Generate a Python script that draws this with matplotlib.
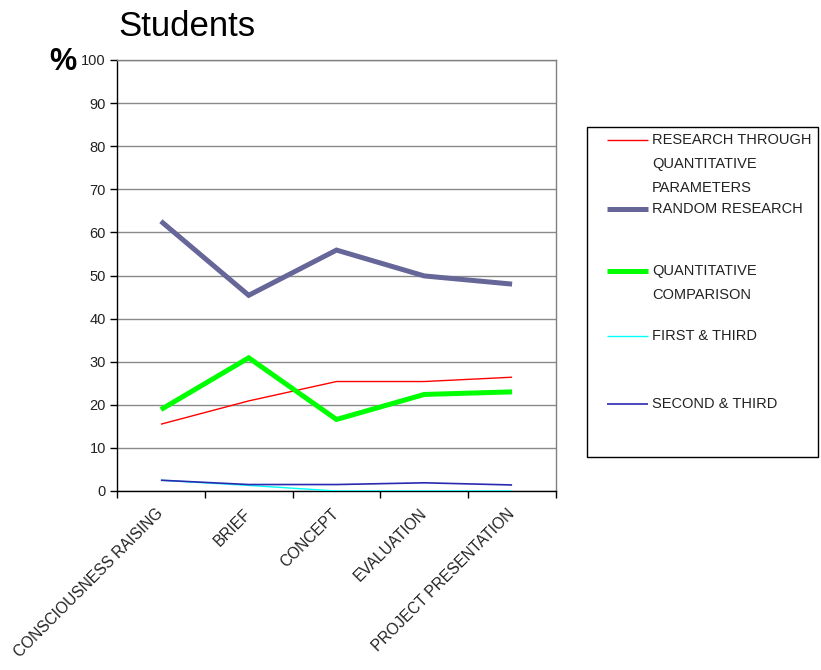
import matplotlib
matplotlib.use("Agg")
import matplotlib.pyplot as plt
from matplotlib.patches import Rectangle
from matplotlib.transforms import ScaledTranslation
import numpy as np

plt.rcParams['font.family'] = ['Liberation Sans', 'DejaVu Sans']

# ---- data ----
stages = ["CONSCIOUSNESS RAISING", "BRIEF", "CONCEPT", "EVALUATION",
          "PROJECT PRESENTATION"]
research_quant_params = [15.5, 20.9, 25.4, 25.4, 26.4]
random_research = [62.6, 45.4, 55.9, 49.9, 48.0]
quant_comparison = [18.9, 30.9, 16.6, 22.4, 23.0]
first_third = [2.5, 1.3, 0.0, 0.0, 0.0]
second_third = [2.5, 1.5, 1.5, 1.9, 1.4]
yticks = list(range(0, 101, 10))

series_names = ["RESEARCH THROUGH\nQUANTITATIVE\nPARAMETERS",
                "RANDOM RESEARCH",
                "QUANTITATIVE\nCOMPARISON",
                "FIRST & THIRD",
                "SECOND & THIRD"]
series_values = [research_quant_params, random_research, quant_comparison,
                 first_third, second_third]
series_colors = ["#FF0000", "#666699", "#00FF00", "#00FFFF", "#2A2AB0"]
series_widths = [1.0, 3.6, 3.6, 1.0, 1.2]

W, H = 821, 670
fig = plt.figure(figsize=(W / 100, H / 100), dpi=100)
fig.patch.set_facecolor("white")

# plot area in pixel terms
L, R, T, B = 117, 556, 60, 491
ax = fig.add_axes([L / W, 1 - B / H, (R - L) / W, (B - T) / H])

x = np.arange(len(stages))
for vals, c, lw in zip(series_values, series_colors, series_widths):
    ax.plot(x, vals, color=c, lw=lw, solid_capstyle="butt",
            solid_joinstyle="miter", zorder=3)

ax.set_xlim(-0.5, len(stages) - 0.5)
ax.set_ylim(0, 100)
ax.set_yticks(yticks)
ax.set_yticklabels([str(v) for v in yticks], fontsize=10.5, color="#222222")
ax.yaxis.grid(True, color="#8a8a8a", lw=1.0, zorder=1)
ax.set_axisbelow(True)

# category boundaries as ticks, names centred between them
ax.set_xticks(np.arange(-0.5, len(stages), 1.0))
ax.set_xticklabels([])
ax.set_xticks(x, minor=True)
ax.set_xticklabels(stages, minor=True, rotation=45, ha="right", va="top",
                   rotation_mode="anchor", fontsize=11.2, color="#222222")
ax.tick_params(axis="x", which="minor", length=0, pad=8)
shift = ScaledTranslation(-0.05, -0.04, fig.dpi_scale_trans)
for lbl in ax.get_xticklabels(minor=True):
    lbl.set_transform(lbl.get_transform() + shift)
ax.tick_params(axis="x", which="major", length=5, width=1, color="black",
               direction="out")
ax.tick_params(axis="y", length=5, width=1, color="black", pad=3,
               direction="out")

for side in ("top", "right"):
    ax.spines[side].set_color("#808080")
    ax.spines[side].set_linewidth(1.0)
for side in ("left", "bottom"):
    ax.spines[side].set_color("black")
    ax.spines[side].set_linewidth(1.0)

# title and unit
fig.text(118 / W, 1 - 27 / H, "Students", fontsize=25, ha="left",
         va="center", color="black")
fig.text(49 / W, 1 - 62 / H, "%", fontsize=22, fontweight="bold",
         ha="left", va="center", color="black")

# ---- key box ----
kax = fig.add_axes([0, 0, 1, 1], zorder=5)
kax.set_xlim(0, W)
kax.set_ylim(H, 0)
kax.axis("off")
kax.patch.set_alpha(0)
kax.add_patch(Rectangle((587, 127), 231, 330, fill=False,
                        edgecolor="black", lw=1.0))
entry_y = [140, 209, 271, 336, 404]
line_gap = 24
for name, c, lw, yy in zip(series_names, series_colors, series_widths,
                           entry_y):
    kax.plot([607, 648], [yy, yy], color=c, lw=lw, solid_capstyle="butt")
    for k, part in enumerate(name.split("\n")):
        kax.text(652, yy + k * line_gap, part, fontsize=10.5, ha="left",
                 va="center", color="#222222")

fig.savefig("out.png", dpi=100, facecolor="white")
